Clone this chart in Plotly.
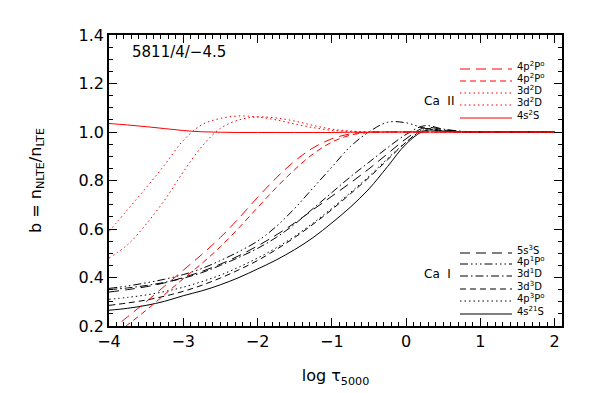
import plotly.graph_objects as go

# log tau_5000 grid shared by all curves
log_tau = [-4.0, -3.75, -3.5, -3.25, -3.0, -2.75, -2.5, -2.25, -2.0, -1.75, -1.5, -1.25,
           -1.0, -0.75, -0.5, -0.25, 0.0, 0.25, 0.5, 0.75, 1.0, 1.5, 2.0]

# Ca I departure coefficients (black)
ca1_5s3S = [0.340, 0.350, 0.362, 0.378, 0.400, 0.425, 0.455, 0.490, 0.530, 0.575, 0.625, 0.680,
            0.735, 0.790, 0.848, 0.910, 0.972, 1.018, 1.010, 1.002, 1.000, 1.000, 1.000]
ca1_4p1P = [0.355, 0.365, 0.378, 0.393, 0.412, 0.437, 0.470, 0.507, 0.550, 0.610, 0.685, 0.770,
            0.855, 0.940, 1.000, 1.040, 1.038, 1.015, 1.003, 1.000, 1.000, 1.000, 1.000]
ca1_3d1D = [0.350, 0.357, 0.367, 0.380, 0.397, 0.420, 0.450, 0.483, 0.520, 0.565, 0.620, 0.685,
            0.750, 0.815, 0.875, 0.935, 0.990, 1.026, 1.012, 1.003, 1.000, 1.000, 1.000]
ca1_3d3D = [0.285, 0.295, 0.307, 0.323, 0.343, 0.368, 0.398, 0.432, 0.470, 0.515, 0.565, 0.620,
            0.680, 0.745, 0.812, 0.885, 0.958, 1.012, 1.006, 1.001, 1.000, 1.000, 1.000]
ca1_4p3P = [0.310, 0.318, 0.328, 0.342, 0.360, 0.383, 0.410, 0.443, 0.480, 0.522, 0.570, 0.625,
            0.685, 0.750, 0.817, 0.890, 0.958, 1.010, 1.004, 1.000, 1.000, 1.000, 1.000]
ca1_4s1S = [0.265, 0.273, 0.285, 0.302, 0.325, 0.345, 0.370, 0.400, 0.435, 0.472, 0.515, 0.565,
            0.625, 0.690, 0.765, 0.857, 0.950, 1.005, 1.004, 1.000, 1.000, 1.000, 1.000]

# Ca II departure coefficients (red)
ca2_4p2P_a = [0.175, 0.238, 0.300, 0.365, 0.430, 0.495, 0.565, 0.645, 0.730, 0.810, 0.880, 0.935,
              0.972, 0.992, 1.000, 1.000, 1.000, 1.000, 1.000, 1.000, 1.000, 1.000, 1.000]
ca2_4p2P_b = [0.150, 0.205, 0.265, 0.330, 0.395, 0.458, 0.527, 0.605, 0.688, 0.770, 0.845, 0.910,
              0.958, 0.987, 0.998, 1.000, 1.000, 1.000, 1.000, 1.000, 1.000, 1.000, 1.000]
ca2_3d2D_a = [0.590, 0.680, 0.770, 0.865, 0.965, 1.030, 1.056, 1.066, 1.062, 1.050, 1.033, 1.018,
              1.007, 1.002, 1.000, 1.000, 1.000, 1.000, 1.000, 1.000, 1.000, 1.000, 1.000]
ca2_3d2D_b = [0.480, 0.535, 0.620, 0.720, 0.835, 0.940, 1.015, 1.050, 1.062, 1.058, 1.045, 1.027,
              1.012, 1.004, 1.000, 1.000, 1.000, 1.000, 1.000, 1.000, 1.000, 1.000, 1.000]
ca2_4s2S = [1.035, 1.029, 1.022, 1.014, 1.006, 1.001, 0.999, 0.998, 0.998, 0.998, 0.998, 0.998,
            0.998, 0.999, 0.999, 1.000, 1.000, 1.000, 1.000, 1.000, 1.000, 1.000, 1.000]

ca1_labels = ['5s<sup>3</sup>S', '4p<sup>1</sup>P<sup>o</sup>', '3d<sup>1</sup>D',
              '3d<sup>3</sup>D', '4p<sup>3</sup>P<sup>o</sup>', '4s<sup>21</sup>S']
ca2_labels = ['4p<sup>2</sup>P<sup>o</sup>', '4p<sup>2</sup>P<sup>o</sup>', '3d<sup>2</sup>D',
              '3d<sup>2</sup>D', '4s<sup>2</sup>S']

# IDL-like line styles
LONGDASH = '10px,6px'
DASH = '6px,4px'
DOT = '1.5px,3px'
DASHDOT = '8px,3px,1.5px,3px'
DASH3DOT = '8px,3px,1.5px,3px,1.5px,3px,1.5px,3px'

ca1_series = [ca1_5s3S, ca1_4p1P, ca1_3d1D, ca1_3d3D, ca1_4p3P, ca1_4s1S]
ca1_dash = [LONGDASH, DASH3DOT, DASHDOT, DASH, DOT, 'solid']
ca2_series = [ca2_4p2P_a, ca2_4p2P_b, ca2_3d2D_a, ca2_3d2D_b, ca2_4s2S]
ca2_dash = [LONGDASH, DASH, DOT, DOT, 'solid']

# the page body adds a small offset, so the figure is made a bit smaller
OFFX, OFFY = 4, 8
WIN_W, WIN_H = 591, 393
W, H = WIN_W - OFFX, WIN_H - OFFY
# plot frame in window pixels
FL, FR, FT, FB = 105, 558, 35, 326
L, R, T, B = FL - OFFX, WIN_W - FR, FT - OFFY, WIN_H - FB
FONT = 'DejaVu Sans'


def px2paper(px, py):
    # window pixel -> paper coordinates
    return (px - FL) / (FR - FL), (FB - py) / (FB - FT)


fig = go.Figure()

for ys, dash in zip(ca1_series, ca1_dash):
    fig.add_trace(go.Scatter(x=log_tau, y=ys, mode='lines', line_shape='spline',
                             line=dict(color='black', width=1, dash=dash), showlegend=False))
for ys, dash in zip(ca2_series, ca2_dash):
    fig.add_trace(go.Scatter(x=log_tau, y=ys, mode='lines', line_shape='spline',
                             line=dict(color='red', width=1, dash=dash), showlegend=False))

# hand-made legends (line sample + label)
shapes, annotations = [], []


def add_legend(labels, dashes, color, rows_py, title, title_py):
    for lab, dash, py in zip(labels, dashes, rows_py):
        x0, y0 = px2paper(456, py)
        x1, _ = px2paper(508, py)
        shapes.append(dict(type='line', xref='paper', yref='paper', x0=x0, x1=x1, y0=y0, y1=y0,
                           line=dict(color=color, width=1, dash=dash)))
        tx, ty = px2paper(511, py - 3)
        annotations.append(dict(text=lab, xref='paper', yref='paper', x=tx, y=ty, xanchor='left',
                                yanchor='middle', showarrow=False,
                                font=dict(family=FONT, size=10, color='black')))
    tx, ty = px2paper(418, title_py)
    annotations.append(dict(text=title, xref='paper', yref='paper', x=tx, y=ty, xanchor='left',
                            yanchor='middle', showarrow=False,
                            font=dict(family=FONT, size=12, color='black')))


add_legend(ca2_labels, ca2_dash, 'red', [69, 81, 93, 105, 118], 'Ca  II', 101)
add_legend(ca1_labels, ca1_dash, 'black', [253, 264, 276, 289, 301, 314], 'Ca  I', 274)

mx, my = px2paper(126, 52)
annotations.append(dict(text='5811/4/\u22124.5', xref='paper', yref='paper', x=mx, y=my,
                        xanchor='left', yanchor='middle', showarrow=False,
                        font=dict(family=FONT, size=15, color='black')))

axis_common = dict(showline=True, linecolor='black', linewidth=1.5, mirror='allticks',
                   ticks='inside', ticklen=8, tickcolor='black', tickwidth=1,
                   showgrid=False, zeroline=False,
                   tickfont=dict(family=FONT, size=16, color='black'))

fig.update_layout(
    width=W, height=H,
    margin=dict(l=L, r=R, t=T, b=B),
    paper_bgcolor='white', plot_bgcolor='white',
    shapes=shapes, annotations=annotations,
    xaxis=dict(range=[-4, 2.1], tickvals=[-4, -3, -2, -1, 0, 1, 2],
               ticktext=['\u22124', '\u22123', '\u22122', '\u22121', '0', '1', '2'],
               minor=dict(dtick=0.1, tick0=0, ticks='inside', ticklen=4, tickcolor='black'),
               title=dict(text='log \u03c4<sub>5000</sub>', standoff=20,
                          font=dict(family=FONT, size=16, color='black')),
               **axis_common),
    yaxis=dict(range=[0.2, 1.4], dtick=0.2, tick0=0.2, tickformat='.1f',
               minor=dict(dtick=0.05, tick0=0, ticks='inside', ticklen=4, tickcolor='black'),
               title=dict(text='b = n<sub>NLTE</sub>/n<sub>LTE</sub>', standoff=33,
                          font=dict(family=FONT, size=16, color='black')),
               **axis_common),
)

fig.write_html('out.html')
